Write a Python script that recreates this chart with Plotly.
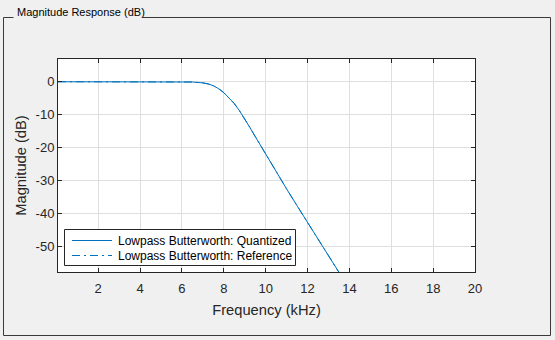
import plotly.graph_objects as go

# ---- data ----
freq_khz = [0.08, 1, 2, 3, 4, 5, 6, 6.5, 7, 7.25, 7.5, 7.75, 8, 8.25, 8.5, 8.75,
            9, 9.25, 9.5, 9.75, 10, 10.5, 11, 11.5, 12, 12.5, 13, 13.5, 14, 15,
            16, 18, 20]
mag_quantized = [0, 0, 0, 0, 0, 0, -0.02, -0.08, -0.35, -0.65, -1.2, -2.1, -3.3,
                 -4.8, -6.6, -8.8, -11.2, -13.9, -16.6, -19.3, -22.0, -27.3,
                 -32.5, -37.6, -42.6, -47.5, -52.4, -57.5, -62.6, -73, -83,
                 -108, -150]
mag_reference = list(mag_quantized)

series_names = ["Lowpass Butterworth: Quantized", "Lowpass Butterworth: Reference"]
series_dash = ["solid", "8px,4px,2px,4px"]
x_ticks = [2, 4, 6, 8, 10, 12, 14, 16, 18, 20]
x_ticktext = ["2", "4", "6", "8", "10", "12", "14", "16", "18", "20"]
y_ticks = [0, -10, -20, -30, -40, -50]
y_ticktext = ["0", "-10", "-20", "-30", "-40", "-50"]

W, H = 555, 340
ML, MR, MT, MB = 58, 80, 59, 68
PW, PH = W - ML - MR, H - MT - MB


def px(xp):
    return (xp - ML) / PW


def py(yp):
    return (H - MB - yp) / PH


BLUE = "#0072BD"
DARK = "#262626"
GRID = "#DFDFDF"
FONT = "Liberation Sans, Arial"

fig = go.Figure()
for name, ys, dash in zip(series_names, [mag_quantized, mag_reference], series_dash):
    fig.add_trace(go.Scatter(x=freq_khz, y=ys, mode="lines", name=name,
                             line=dict(color=BLUE, width=1, dash=dash),
                             showlegend=False))

axis_common = dict(showline=True, linecolor=DARK, linewidth=1, mirror="ticks",
                   ticks="inside", ticklen=4, tickcolor=DARK, showgrid=True,
                   gridcolor=GRID, gridwidth=1, zeroline=False,
                   tickfont=dict(family=FONT, size=13, color=DARK))

fig.update_xaxes(range=[0.08, 20], tickvals=x_ticks, ticktext=x_ticktext,
                 ticklabelstandoff=4,
                 title=dict(text="Frequency (kHz)", standoff=10,
                            font=dict(family=FONT, size=14.7, color=DARK)),
                 **axis_common)
fig.update_yaxes(range=[-57.7, 6.9], tickvals=y_ticks, ticktext=y_ticktext,
                 title=dict(text="Magnitude (dB)", standoff=5,
                            font=dict(family=FONT, size=14.7, color=DARK)),
                 **axis_common)

# panel frame (uipanel-like border with title gap)
frame = [((3, 17), (13, 17)), ((142, 17), (550, 17)), ((550, 17), (550, 335)),
         ((550, 335), (3, 335)), ((3, 335), (3, 17))]
shapes = []
for (x0, y0), (x1, y1) in frame:
    shapes.append(dict(type="line", xref="paper", yref="paper",
                       x0=px(x0 + 0.5), y0=py(y0 + 0.5), x1=px(x1 + 0.5), y1=py(y1 + 0.5),
                       line=dict(color="#3a3a3a", width=1)))

# legend box (MATLAB-style, drawn manually for exact row spacing)
shapes.append(dict(type="rect", xref="paper", yref="paper",
                   x0=px(64.5), x1=px(295.5), y0=py(229.5), y1=py(265.5),
                   fillcolor="white", line=dict(color=DARK, width=1)))
annotations = [dict(text="Magnitude Response (dB)", xref="paper", yref="paper",
                    x=px(15), y=py(12), xanchor="left", yanchor="middle",
                    showarrow=False,
                    font=dict(family=FONT, size=11, color="#000000"))]
for i, (name, dash) in enumerate(zip(series_names, series_dash)):
    row_y = 240.5 + 15 * i
    shapes.append(dict(type="line", xref="paper", yref="paper",
                       x0=px(72), x1=px(112), y0=py(row_y), y1=py(row_y),
                       line=dict(color=BLUE, width=1, dash=dash)))
    annotations.append(dict(text=name, xref="paper", yref="paper",
                            x=px(116), y=py(row_y), xanchor="left", yanchor="middle",
                            showarrow=False,
                            font=dict(family=FONT, size=12, color="#000000")))

fig.update_layout(
    width=W, height=H,
    margin=dict(l=ML, r=MR, t=MT, b=MB),
    paper_bgcolor="#F0F0F0", plot_bgcolor="white",
    shapes=shapes,
    annotations=annotations,
    showlegend=False,
)

fig.write_html("out.html")
